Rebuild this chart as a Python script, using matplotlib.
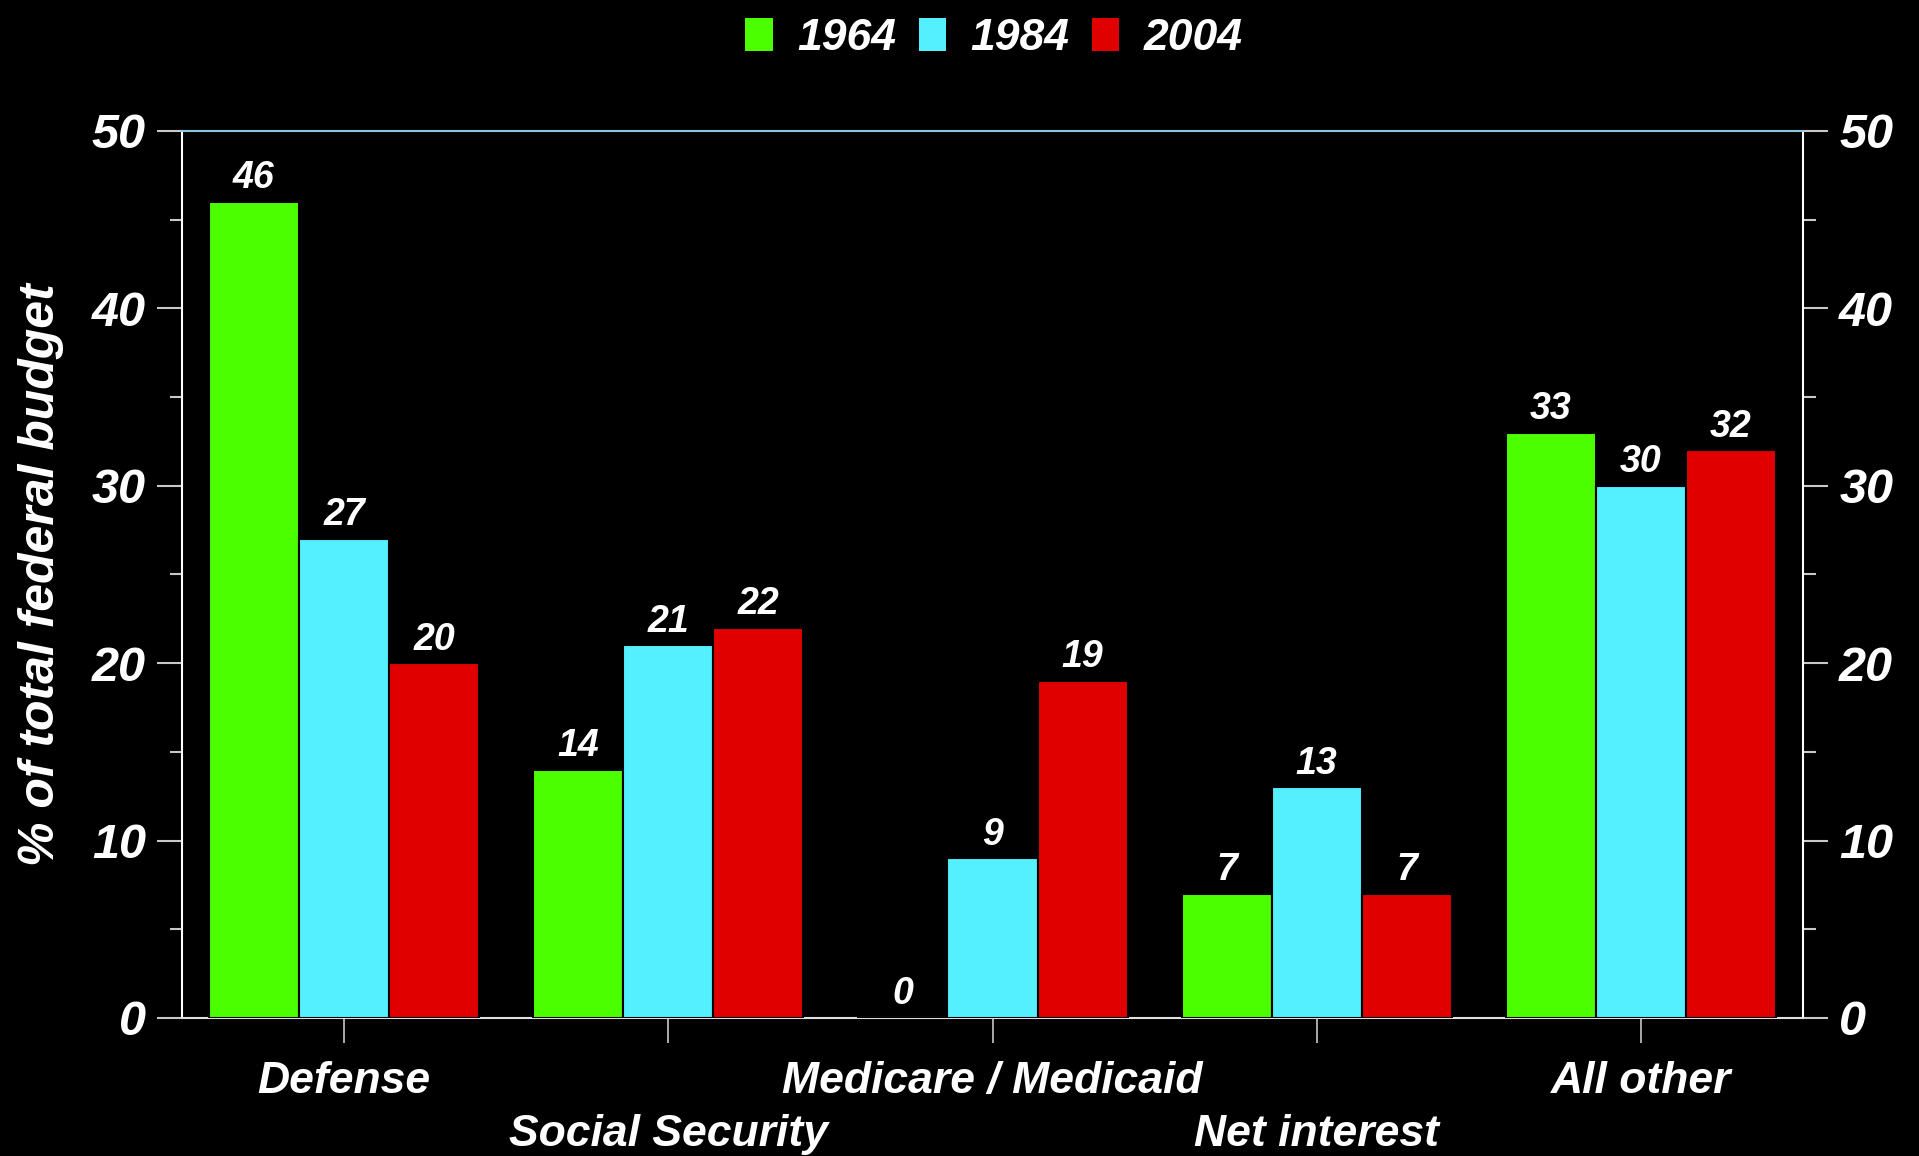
import matplotlib
matplotlib.use("Agg")
import matplotlib.pyplot as plt
import numpy as np
from matplotlib.ticker import MultipleLocator, FixedLocator, FixedFormatter

# Share of the total federal budget by spending category
categories = ["Defense", "Social Security", "Medicare / Medicaid", "Net interest", "All other"]
years = ["1964", "1984", "2004"]
share_1964 = [46, 14, 0, 7, 33]
share_1984 = [27, 21, 9, 13, 30]
share_2004 = [20, 22, 19, 7, 32]
y_ticks = [0, 10, 20, 30, 40, 50]

colors = ["#4cff00", "#55f0ff", "#e00000"]
font = "Liberation Sans"
text_style = dict(family=font, fontweight="bold", fontstyle="italic", color="white")

fig = plt.figure(figsize=(19.19, 11.56), dpi=100, facecolor="black")
ax = fig.add_axes([0.0948, 0.1194, 0.8448, 0.7673], facecolor="black")

x = np.arange(len(categories))
width = 0.2778
series = [share_1964, share_1984, share_2004]
handles = []
for i, (vals, col, yr) in enumerate(zip(series, colors, years)):
    pos = x + (i - 1) * width
    bars = ax.bar(pos, vals, width, color=col, edgecolor="black", linewidth=1.5,
                  zorder=3, label=yr)
    handles.append(bars)
    for px, v in zip(pos, vals):
        ax.annotate(f"{v}", (px, v), xytext=(0, 4), textcoords="offset points",
                    ha="center", va="bottom", fontsize=27, **text_style)

ax.set_xlim(-0.5, 4.5)
ax.set_ylim(0, 50)
ax.set_yticks(y_ticks)
ax.yaxis.set_minor_locator(MultipleLocator(5))

# Category names staggered on two rows: even ones on major ticks,
# odd ones on minor ticks with a larger pad
upper = x[::2]
lower = x[1::2]
ax.xaxis.set_major_locator(FixedLocator(upper))
ax.xaxis.set_major_formatter(FixedFormatter([categories[k] for k in upper]))
ax.xaxis.set_minor_locator(FixedLocator(lower))
ax.xaxis.set_minor_formatter(FixedFormatter([categories[k] for k in lower]))

ax.tick_params(axis="y", which="major", length=18, width=1.5, color="#c8c8c8",
               direction="out", left=True, right=True, labelleft=True,
               labelright=True, pad=8, labelsize=35)
ax.tick_params(axis="y", which="minor", length=9, width=1.5, color="#c8c8c8",
               direction="out", left=True, right=True)
ax.tick_params(axis="x", which="major", length=18, width=1.2, color="#c8c8c8",
               direction="out", pad=13, labelsize=32)
ax.tick_params(axis="x", which="minor", length=18, width=1.2, color="#c8c8c8",
               direction="out", pad=13 + 38, labelsize=32)

for t in (ax.xaxis.get_major_ticks() + ax.xaxis.get_minor_ticks()
          + ax.yaxis.get_major_ticks()):
    for lab in (t.label1, t.label2):
        lab.set_fontfamily(font)
        lab.set_fontweight("bold")
        lab.set_fontstyle("italic")
        lab.set_color("white")

ax.spines["left"].set_color("white")
ax.spines["right"].set_color("white")
ax.spines["bottom"].set_color("#e0e0e0")
ax.spines["top"].set_color("#8fc4e0")
for s in ax.spines.values():
    s.set_linewidth(1.5)

ax.set_ylabel("% of total federal budget", fontsize=36, labelpad=20, **text_style)

leg = fig.legend(handles=handles, labels=years, loc="center",
                 bbox_to_anchor=(0.518, 0.967), ncol=3, frameon=False,
                 prop={"family": font, "weight": "bold", "style": "italic", "size": 32},
                 handlelength=0.62, handleheight=0.78, handletextpad=0.55,
                 columnspacing=0.5, labelcolor="white")
for h in leg.legend_handles:
    h.set_edgecolor("none")

fig.savefig("out.png", dpi=100, facecolor="black")
